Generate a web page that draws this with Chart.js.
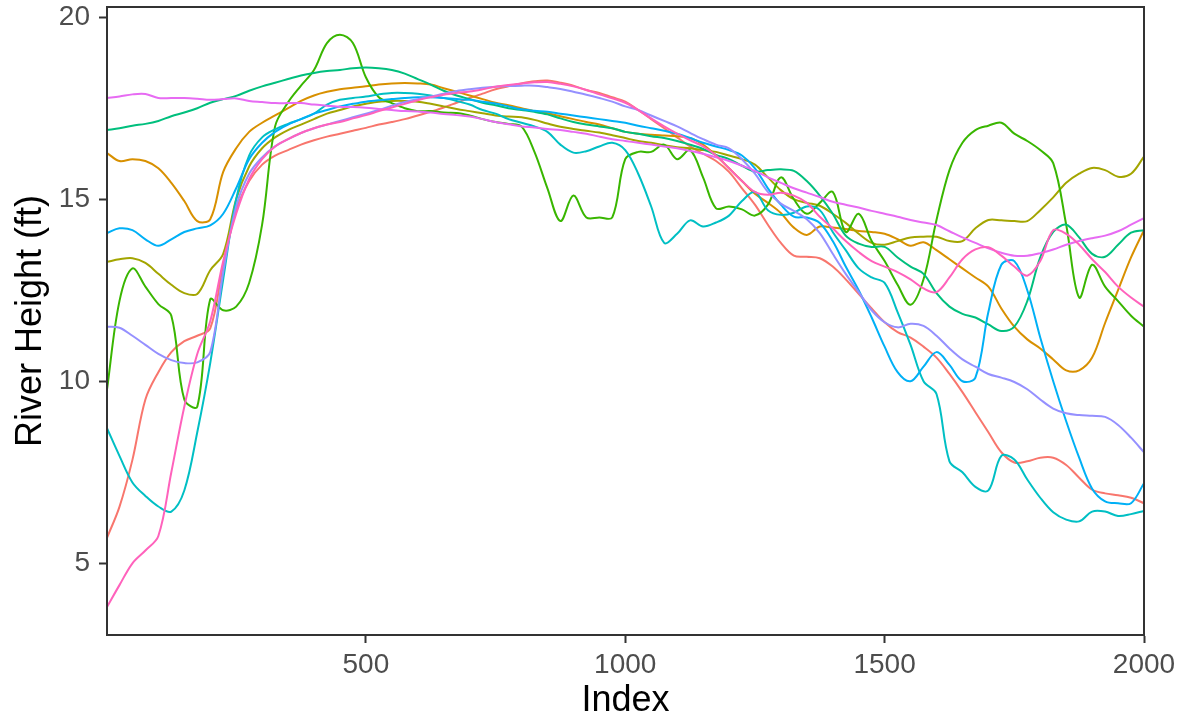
<!DOCTYPE html>
<html>
<head>
<meta charset="utf-8">
<script src="https://cdn.jsdelivr.net/npm/chart.js@4.4.1/dist/chart.umd.min.js"></script>
<style>
  html, body { margin: 0; padding: 0; background: #fff; }
  #wrap { width: 1188px; height: 723px; }
</style>
</head>
<body>
<div id="wrap"><canvas id="riverChart" width="1188" height="723"></canvas></div>
<script>
// sample positions along the index axis
const INDEX = [1, 25, 50, 75, 100, 125, 150, 175, 200, 225, 250, 275, 300, 325, 350, 375, 400, 425, 450, 475,
  500, 525, 550, 575, 600, 625, 650, 675, 700, 725, 750, 775, 800, 825, 850, 875, 900, 925, 950, 975,
  1000, 1025, 1050, 1075, 1100, 1125, 1150, 1175, 1200, 1225, 1250, 1275, 1300, 1325, 1350, 1375, 1400, 1425, 1450, 1475,
  1500, 1525, 1550, 1575, 1600, 1625, 1650, 1675, 1700, 1725, 1750, 1775, 1800, 1825, 1850, 1875, 1900, 1925, 1950, 1975, 2000];

const X_TICKS = [500, 1000, 1500, 2000];
const Y_TICKS = [5, 10, 15, 20];

// river height (ft) per gauge
const gauge1 = [5.7, 6.55, 7.84, 9.5, 10.25, 10.8, 11.1, 11.25, 11.45, 13.2, 14.7, 15.5, 15.95, 16.2, 16.35, 16.5, 16.62, 16.72, 16.8, 16.88,
  16.96, 17.05, 17.12, 17.2, 17.3, 17.4, 17.52, 17.65, 17.78, 17.9, 18.02, 18.1, 18.18, 18.24, 18.26, 18.2, 18.12, 18.0, 17.92, 17.8,
  17.68, 17.45, 17.2, 16.95, 16.7, 16.45, 16.25, 16.05, 15.75, 15.3, 14.85, 14.3, 13.8, 13.45, 13.42, 13.38, 13.15, 12.8, 12.4, 12.0,
  11.62, 11.35, 11.2, 10.95, 10.65, 10.2, 9.7, 9.15, 8.6, 8.05, 7.77, 7.8, 7.9, 7.9, 7.7, 7.35, 7.02, 6.92, 6.87, 6.8, 6.65];

const gauge2 = [16.27, 16.05, 16.1, 16.05, 15.85, 15.45, 14.95, 14.4, 14.45, 15.75, 16.4, 16.85, 17.1, 17.3, 17.5, 17.7, 17.85, 17.95, 18.02, 18.06,
  18.1, 18.15, 18.18, 18.19, 18.18, 18.15, 18.05, 17.95, 17.85, 17.75, 17.65, 17.58, 17.5, 17.42, 17.36, 17.28, 17.2, 17.12, 17.05, 16.95,
  16.85, 16.8, 16.77, 16.75, 16.73, 16.68, 16.5, 16.2, 15.85, 15.5, 15.15, 14.9, 14.62, 14.22, 14.02, 14.25, 14.22, 14.18, 14.13, 14.1,
  14.05, 13.9, 13.72, 13.82, 13.6, 13.35, 13.1, 12.85, 12.6, 12.0, 11.5, 11.15, 10.9, 10.6, 10.3, 10.3, 10.65, 11.6, 12.5, 13.4, 14.15];

const gauge3 = [13.28, 13.35, 13.38, 13.25, 12.95, 12.65, 12.42, 12.4, 13.05, 13.5, 15.0, 15.9, 16.4, 16.7, 16.9, 17.05, 17.2, 17.35, 17.45, 17.55,
  17.62, 17.68, 17.7, 17.7, 17.68, 17.62, 17.55, 17.48, 17.42, 17.36, 17.3, 17.27, 17.25, 17.18, 17.08, 16.99, 16.93, 16.88, 16.83, 16.76,
  16.68, 16.6, 16.55, 16.48, 16.43, 16.4, 16.35, 16.3, 16.2, 16.1, 15.95, 15.6, 15.25, 15.0, 14.9, 14.82, 14.6, 14.35, 14.05, 13.8,
  13.75, 13.85, 13.95, 13.97, 13.97, 13.85, 13.85, 14.2, 14.43, 14.42, 14.4, 14.4, 14.7, 15.05, 15.45, 15.7, 15.86, 15.8, 15.62, 15.7, 16.17];

const gauge4 = [9.77, 12.2, 13.1, 12.6, 12.12, 11.8, 9.5, 9.3, 12.25, 11.95, 12.05, 12.7, 14.3, 17.0, 17.66, 18.12, 18.55, 19.29, 19.52, 19.29,
  18.35, 17.8, 17.64, 17.5, 17.42, 17.42, 17.38, 17.37, 17.3, 17.2, 17.12, 17.07, 17.0, 16.3, 15.3, 14.4, 15.1, 14.5, 14.5, 14.5,
  16.1, 16.3, 16.3, 16.5, 16.1, 16.35, 15.6, 14.75, 14.8, 14.72, 14.55, 14.85, 15.6, 15.0, 14.6, 14.9, 15.2, 14.1, 14.6, 13.85,
  13.3, 12.65, 12.1, 12.8, 14.43, 15.8, 16.55, 16.9, 17.02, 17.1, 16.8, 16.6, 16.35, 15.99, 14.3, 12.3, 13.2, 12.6, 12.2, 11.8, 11.5];

const gauge5 = [16.9, 16.95, 17.02, 17.07, 17.15, 17.28, 17.38, 17.5, 17.65, 17.75, 17.84, 17.98, 18.1, 18.2, 18.3, 18.4, 18.47, 18.52, 18.55, 18.6,
  18.62, 18.6, 18.55, 18.45, 18.3, 18.15, 17.98, 17.85, 17.75, 17.65, 17.58, 17.5, 17.45, 17.4, 17.33, 17.22, 17.12, 17.05, 17.0, 16.95,
  16.85, 16.8, 16.73, 16.68, 16.6, 16.5, 16.38, 16.22, 16.1, 15.92, 15.76, 15.8, 15.82, 15.78, 15.5, 15.1, 14.6, 14.0, 13.78, 13.69,
  13.69, 13.4, 13.15, 12.95, 12.42, 12.05, 11.85, 11.75, 11.56, 11.38, 11.5, 12.2, 13.4, 14.1, 14.3, 13.95, 13.5, 13.42, 13.75, 14.08, 14.15];

const gauge6 = [8.71, 7.95, 7.22, 6.85, 6.56, 6.42, 7.0, 8.6, 10.5, 12.8, 15.0, 16.2, 16.7, 16.92, 17.07, 17.2, 17.35, 17.6, 17.73, 17.78,
  17.82, 17.88, 17.92, 17.92, 17.9, 17.85, 17.78, 17.7, 17.6, 17.45, 17.35, 17.2, 17.1, 17.0, 16.85, 16.5, 16.28, 16.32, 16.45, 16.55,
  16.35, 15.7, 14.8, 13.8, 14.05, 14.42, 14.25, 14.36, 14.55, 14.95, 15.2, 14.7, 14.57, 14.63, 14.8, 14.7, 14.1, 13.6, 13.1, 12.85,
  12.7, 11.9, 11.0, 10.0, 9.65, 7.8, 7.5, 7.1, 7.0, 7.95, 7.85, 7.3, 6.8, 6.4, 6.2, 6.15, 6.42, 6.42, 6.3, 6.35, 6.44];

const gauge7 = [14.07, 14.2, 14.15, 13.9, 13.72, 13.9, 14.1, 14.2, 14.28, 14.6, 15.3, 16.1, 16.55, 16.85, 17.05, 17.2, 17.35, 17.45, 17.55, 17.62,
  17.68, 17.72, 17.75, 17.78, 17.8, 17.8, 17.78, 17.75, 17.73, 17.68, 17.63, 17.55, 17.47, 17.43, 17.4, 17.35, 17.3, 17.25, 17.2, 17.15,
  17.1, 17.02, 16.95, 16.88, 16.8, 16.68, 16.55, 16.45, 16.35, 16.2, 15.85, 15.3, 14.85, 14.52, 14.5, 14.35, 13.85, 13.15, 12.5, 11.75,
  10.95, 10.25, 10.0, 10.4, 10.8, 10.45, 10.0, 10.1, 11.9, 13.2, 13.3, 12.5, 11.2, 10.0, 8.9, 7.9, 7.05, 6.7, 6.65, 6.65, 7.2];

const gauge8 = [11.5, 11.47, 11.25, 11.0, 10.75, 10.58, 10.5, 10.52, 10.8, 13.0, 14.8, 15.7, 16.15, 16.45, 16.65, 16.82, 16.95, 17.05, 17.15, 17.25,
  17.35, 17.45, 17.57, 17.67, 17.75, 17.82, 17.9, 17.97, 18.02, 18.06, 18.09, 18.11, 18.12, 18.12, 18.08, 18.03, 17.95, 17.87, 17.78, 17.68,
  17.55, 17.45, 17.3, 17.15, 17.0, 16.82, 16.65, 16.5, 16.4, 16.1, 15.7, 15.2, 14.88, 14.68, 14.45, 14.07, 13.5, 12.95, 12.45, 11.95,
  11.62, 11.48, 11.58, 11.52, 11.25, 10.9, 10.6, 10.4, 10.2, 10.1, 9.98, 9.78, 9.5, 9.25, 9.12, 9.07, 9.05, 9.02, 8.8, 8.45, 8.05];

const gauge9 = [17.78, 17.82, 17.88, 17.89, 17.78, 17.78, 17.78, 17.76, 17.73, 17.75, 17.77, 17.7, 17.67, 17.64, 17.64, 17.64, 17.6, 17.57, 17.54, 17.53,
  17.51, 17.48, 17.45, 17.42, 17.41, 17.38, 17.34, 17.31, 17.27, 17.2, 17.12, 17.06, 17.0, 16.97, 16.93, 16.9, 16.85, 16.8, 16.72, 16.65,
  16.6, 16.55, 16.5, 16.45, 16.4, 16.33, 16.25, 16.15, 16.05, 15.92, 15.78, 15.6, 15.45, 15.3, 15.18, 15.06, 14.93, 14.85, 14.77, 14.68,
  14.6, 14.52, 14.43, 14.36, 14.29, 14.12, 13.95, 13.8, 13.65, 13.53, 13.45, 13.45, 13.52, 13.62, 13.75, 13.85, 13.93, 14.0, 14.12, 14.3, 14.48];

const gauge10 = [3.8, 4.4, 5.0, 5.35, 5.75, 7.5, 9.3, 10.75, 11.65, 13.3, 14.6, 15.55, 16.1, 16.45, 16.65, 16.82, 16.95, 17.05, 17.12, 17.22,
  17.31, 17.42, 17.52, 17.62, 17.72, 17.8, 17.87, 17.92, 17.96, 18.02, 18.09, 18.14, 18.18, 18.21, 18.22, 18.17, 18.1, 18.0, 17.88, 17.77,
  17.65, 17.45, 17.22, 17.0, 16.8, 16.62, 16.45, 16.2, 15.85, 15.5, 15.2, 15.12, 15.18, 15.1, 14.9, 14.52, 14.2, 13.85, 13.55, 13.3,
  13.15, 13.0, 12.8, 12.55, 12.45, 12.85, 13.35, 13.62, 13.68, 13.45, 13.15, 12.9, 13.3, 14.15, 14.05, 13.75, 13.35, 13.0, 12.6, 12.3, 12.05];

const SERIES = [gauge1, gauge2, gauge3, gauge4, gauge5, gauge6, gauge7, gauge8, gauge9, gauge10];
const COLORS = ["#F8766D", "#D89000", "#A3A500", "#39B600", "#00BF7D", "#00BFC4", "#00B0F6", "#9590FF", "#E76BF3", "#FF62BC"];

const FONT = "'Liberation Sans', Arial, sans-serif";

// frame around the panel, like a bordered plot
const panelBorder = {
  id: "panelBorder",
  afterDatasetsDraw(chart) {
    const { ctx, chartArea: a } = chart;
    ctx.save();
    ctx.strokeStyle = "#333333";
    ctx.lineWidth = 2;
    ctx.strokeRect(a.left, a.top, a.right - a.left, a.bottom - a.top);
    ctx.restore();
  }
};

const datasets = SERIES.map((vals, i) => ({
  label: "gauge " + (i + 1),
  data: vals.map((v, j) => ({ x: INDEX[j], y: v })),
  borderColor: COLORS[i],
  borderWidth: 2,
  pointRadius: 0,
  tension: 0.35,
  order: SERIES.length - i
}));

new Chart(document.getElementById("riverChart"), {
  type: "line",
  data: { datasets },
  plugins: [panelBorder],
  options: {
    responsive: false,
    animation: false,
    layout: { padding: { top: 7, right: 44, left: 0, bottom: 0 } },
    plugins: { legend: { display: false }, tooltip: { enabled: false } },
    scales: {
      x: {
        type: "linear",
        min: 1,
        max: 2000,
        afterBuildTicks: s => { s.ticks = X_TICKS.map(v => ({ value: v })); },
        afterFit: s => { s.height = 88; s.paddingLeft = 0; s.paddingRight = 0; },
        grid: { drawOnChartArea: false, drawTicks: true, tickLength: 8, tickWidth: 2, tickColor: "#333333" },
        border: { display: true, color: "#333333", width: 2 },
        ticks: { color: "#4D4D4D", font: { family: FONT, size: 28 }, padding: 5, maxRotation: 0, callback: v => String(v) },
        title: { display: true, text: "Index", color: "#000000", font: { family: FONT, size: 36 }, padding: { top: 0, bottom: 0 } }
      },
      y: {
        min: 3.03,
        max: 20.28,
        afterBuildTicks: s => { s.ticks = Y_TICKS.map(v => ({ value: v })); },
        afterFit: s => { s.width = 107; s.paddingTop = 0; s.paddingBottom = 0; },
        grid: { drawOnChartArea: false, drawTicks: true, tickLength: 8, tickWidth: 2, tickColor: "#333333" },
        border: { display: true, color: "#333333", width: 2 },
        ticks: { color: "#4D4D4D", font: { family: FONT, size: 28 }, padding: 9, callback: v => String(v) },
        title: { display: true, text: "River Height (ft)", color: "#000000", font: { family: FONT, size: 36 }, padding: { top: 9, bottom: 0 } }
      }
    }
  }
});
</script>
</body>
</html>
